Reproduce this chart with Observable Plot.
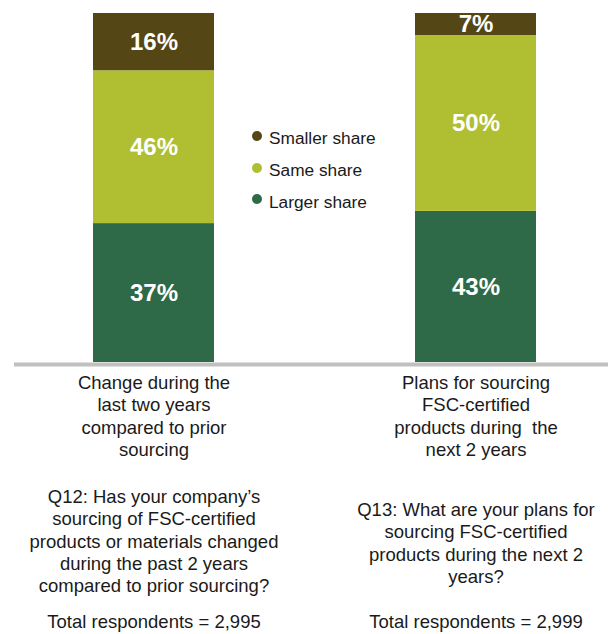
<!DOCTYPE html>
<html>
<head>
<meta charset="utf-8">
<script src="https://cdn.jsdelivr.net/npm/d3@7"></script>
<script src="https://cdn.jsdelivr.net/npm/@observablehq/plot@0.6"></script>
<style>
  html, body { margin: 0; padding: 0; background: #fff; }
  #wrap { position: relative; width: 608px; height: 634px; font-family: "Liberation Sans", Arial, Helvetica, sans-serif; color: #1a1a1a; }
  #legend { position: absolute; left: 252px; top: 123px; }
  .row { display: flex; align-items: center; height: 31.7px; font-size: 17.3px; }
  .dot { width: 10px; height: 10px; border-radius: 50%; margin-right: 7px; position: relative; top: -3px; }
</style>
</head>
<body>
<div id="wrap"><div id="legend"></div></div>
<script>
// categories
const categories = ["Q12", "Q13"];
const categoryLabels = [
  "Change during the\nlast two years\ncompared to prior\nsourcing",
  "Plans for sourcing\nFSC-certified\nproducts during  the\nnext 2 years"
];
const questions = [
  "Q12: Has your company’s\nsourcing of FSC-certified\nproducts or materials changed\nduring the past 2 years\ncompared to prior sourcing?",
  "Q13: What are your plans for\nsourcing FSC-certified\nproducts during the next 2\nyears?"
];
const totals = ["Total respondents = 2,995", "Total respondents = 2,999"];

// series (bottom to top)
const seriesNames = ["Larger share", "Same share", "Smaller share"];
const seriesColors = ["#2e6a48", "#b0bf31", "#544615"];
// bar heights as drawn (share of bar, %)
const largerShare = [39.8, 43.3];
const sameShare = [43.8, 50.4];
const smallerShare = [16.4, 6.3];
// printed labels
const largerLabels = ["37%", "43%"];
const sameLabels = ["46%", "50%"];
const smallerLabels = ["16%", "7%"];

const seriesValues = [largerShare, sameShare, smallerShare];
const seriesLabels = [largerLabels, sameLabels, smallerLabels];
const rows = [];
categories.forEach((c, i) => {
  seriesNames.forEach((s, j) => {
    rows.push({cat: c, series: s, value: seriesValues[j][i], label: seriesLabels[j][i]});
  });
});
const textRows = categories.map((c, i) => ({cat: c, label: categoryLabels[i], question: questions[i], total: totals[i]}));

const font = "'Liberation Sans', Arial, Helvetica, sans-serif";
const chart = Plot.plot({
  width: 608,
  height: 634,
  marginTop: 13,
  marginBottom: 272,
  marginLeft: 92,
  marginRight: 72,
  x: {domain: categories, paddingInner: 0.625, paddingOuter: 0, axis: null},
  y: {domain: [0, 100], axis: null},
  color: {domain: seriesNames, range: seriesColors},
  style: {fontFamily: font, color: "#1a1a1a", background: "transparent", overflow: "visible"},
  marks: [
    Plot.barY(rows, {x: "cat", y: "value", fill: "series"}),
    Plot.text(rows, Plot.stackY({x: "cat", y: "value", text: "label", fill: "white", fontSize: 24, fontWeight: "bold"})),
    Plot.ruleY([0], {stroke: "#c0c0c0", strokeWidth: 4, dy: 2, insetLeft: -78, insetRight: -72}),
    Plot.text(textRows, {x: "cat", text: "label", frameAnchor: "bottom", lineAnchor: "top", dy: 11, fontSize: 18.5, lineHeight: 1.2, fill: "#1a1a1a"}),
    Plot.text(textRows.slice(0, 1), {x: "cat", text: "question", frameAnchor: "bottom", lineAnchor: "top", dy: 125, fontSize: 18.5, lineHeight: 1.2, fill: "#1a1a1a"}),
    Plot.text(textRows.slice(1, 2), {x: "cat", text: "question", frameAnchor: "bottom", lineAnchor: "top", dy: 138, fontSize: 18.5, lineHeight: 1.2, fill: "#1a1a1a"}),
    Plot.text(textRows, {x: "cat", text: "total", frameAnchor: "bottom", lineAnchor: "top", dy: 252.5, fontSize: 18.5, fill: "#1a1a1a"})
  ]
});
const wrap = document.getElementById("wrap");
wrap.insertBefore(chart, wrap.firstChild);

// legend (top to bottom: Smaller, Same, Larger)
const legend = document.getElementById("legend");
[2, 1, 0].forEach(j => {
  const row = document.createElement("div");
  row.className = "row";
  const dot = document.createElement("span");
  dot.className = "dot";
  dot.style.background = seriesColors[j];
  const label = document.createElement("span");
  label.textContent = seriesNames[j];
  row.appendChild(dot);
  row.appendChild(label);
  legend.appendChild(row);
});
</script>
</body>
</html>
